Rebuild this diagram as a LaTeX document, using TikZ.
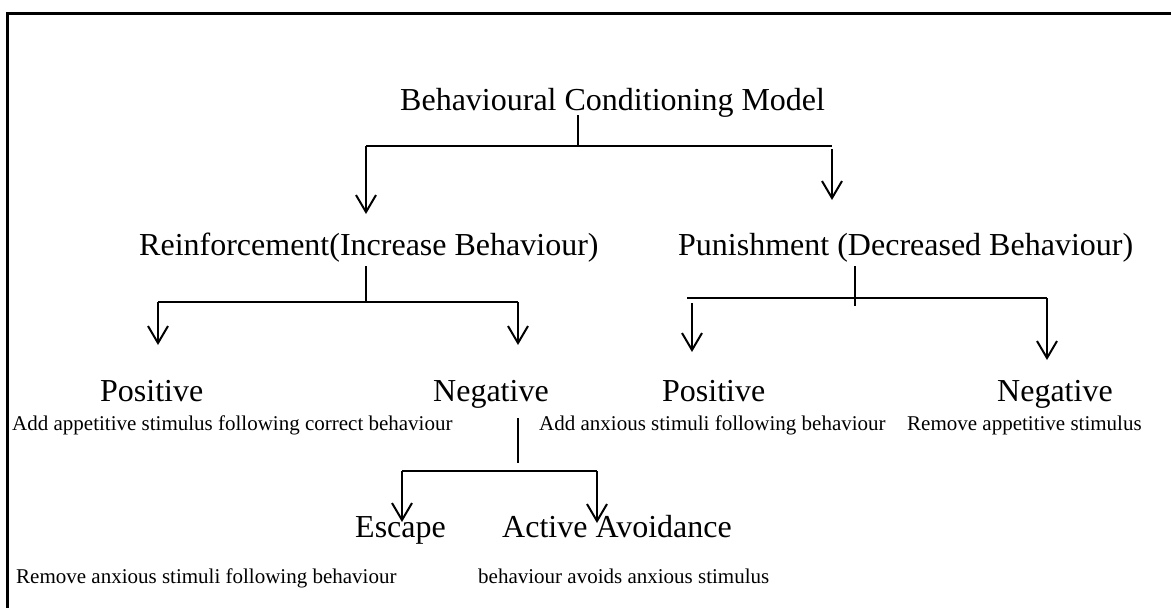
\documentclass[tikz,border=0pt]{standalone}
\usepackage{fontspec}
\setmainfont{Liberation Serif}
\usetikzlibrary{arrows.meta}
\begin{document}
\begin{tikzpicture}[x=1pt,y=-1pt,
  big/.style={anchor=base west,inner sep=0pt,font=\fontsize{32}{38}\selectfont},
  small/.style={anchor=base west,inner sep=0pt,font=\fontsize{21}{25}\selectfont},
  link/.style={line width=1.2pt},
  down/.style={line width=2pt,-{Straight Barb[length=17pt,width=20pt,line width=2pt]}}]
\useasboundingbox (0,0) rectangle (1171,608);
% frame
\draw[line width=3pt] (7,608) -- (7,13) -- (1171,13);

% level 0
\node[big] (model) at (400,110) {Behavioural Conditioning Model};
\coordinate (m0) at (578,115);
\coordinate (m1) at (578,146);
\coordinate (mL) at (366,146);
\coordinate (mR) at (832,146);
\coordinate (mRs) at (832,149);
\coordinate (mLt) at (366,214);
\coordinate (mRt) at (832,200);
\draw[link] (m0) -- (m1);
\draw[link] (mL) -- (mR);
\draw[down] (mL) -- (mLt);
\draw[down] (mRs) -- (mRt);

% level 1
\node[big] (reinf) at (139,255) {Reinforcement(Increase Behaviour)};
\node[big] (punish) at (678,255) {Punishment (Decreased Behaviour)};

\coordinate (r0) at (366,266);
\coordinate (r1) at (366,302);
\coordinate (rL) at (158,302);
\coordinate (rR) at (518,302);
\coordinate (rLt) at (158,345);
\coordinate (rRt) at (518,345);
\draw[link] (r0) -- (r1);
\draw[link] (rL) -- (rR);
\draw[down] (rL) -- (rLt);
\draw[down] (rR) -- (rRt);

\coordinate (p0) at (855,266);
\coordinate (p1) at (855,306);
\coordinate (pL) at (687,298);
\coordinate (pR) at (1047,298);
\coordinate (pLs) at (692,303);
\coordinate (pLt) at (692,352);
\coordinate (pRt) at (1047,360);
\draw[link] (p0) -- (p1);
\draw[link] (pL) -- (pR);
\draw[down] (pLs) -- (pLt);
\draw[down] (pR) -- (pRt);

% level 2
\node[big] (rpos) at (100,401) {Positive};
\node[small] (rposd) at (12,430) {Add appetitive stimulus following correct behaviour};
\node[big] (rneg) at (433,401) {Negative};
\node[big] (ppos) at (662,401) {Positive};
\node[small] (pposd) at (539,430) {Add anxious stimuli following behaviour};
\node[big] (pneg) at (997,401) {Negative};
\node[small] (pnegd) at (907,430) {Remove appetitive stimulus};

\coordinate (n0) at (518,418);
\coordinate (n1) at (518,463);
\coordinate (nL) at (402,471);
\coordinate (nR) at (597,471);
\coordinate (nLt) at (402,522);
\coordinate (nRt) at (597,523);
\draw[link] (n0) -- (n1);
\draw[link] (nL) -- (nR);
\draw[down] (nL) -- (nLt);
\draw[down] (nR) -- (nRt);

% level 3
\node[big] (escape) at (355,537) {Escape};
\node[big] (avoid) at (502,537) {Active Avoidance};
\node[small] (escaped) at (16,583) {Remove anxious stimuli following behaviour};
\node[small] (avoidd) at (478,583) {behaviour avoids anxious stimulus};
\end{tikzpicture}
\end{document}
